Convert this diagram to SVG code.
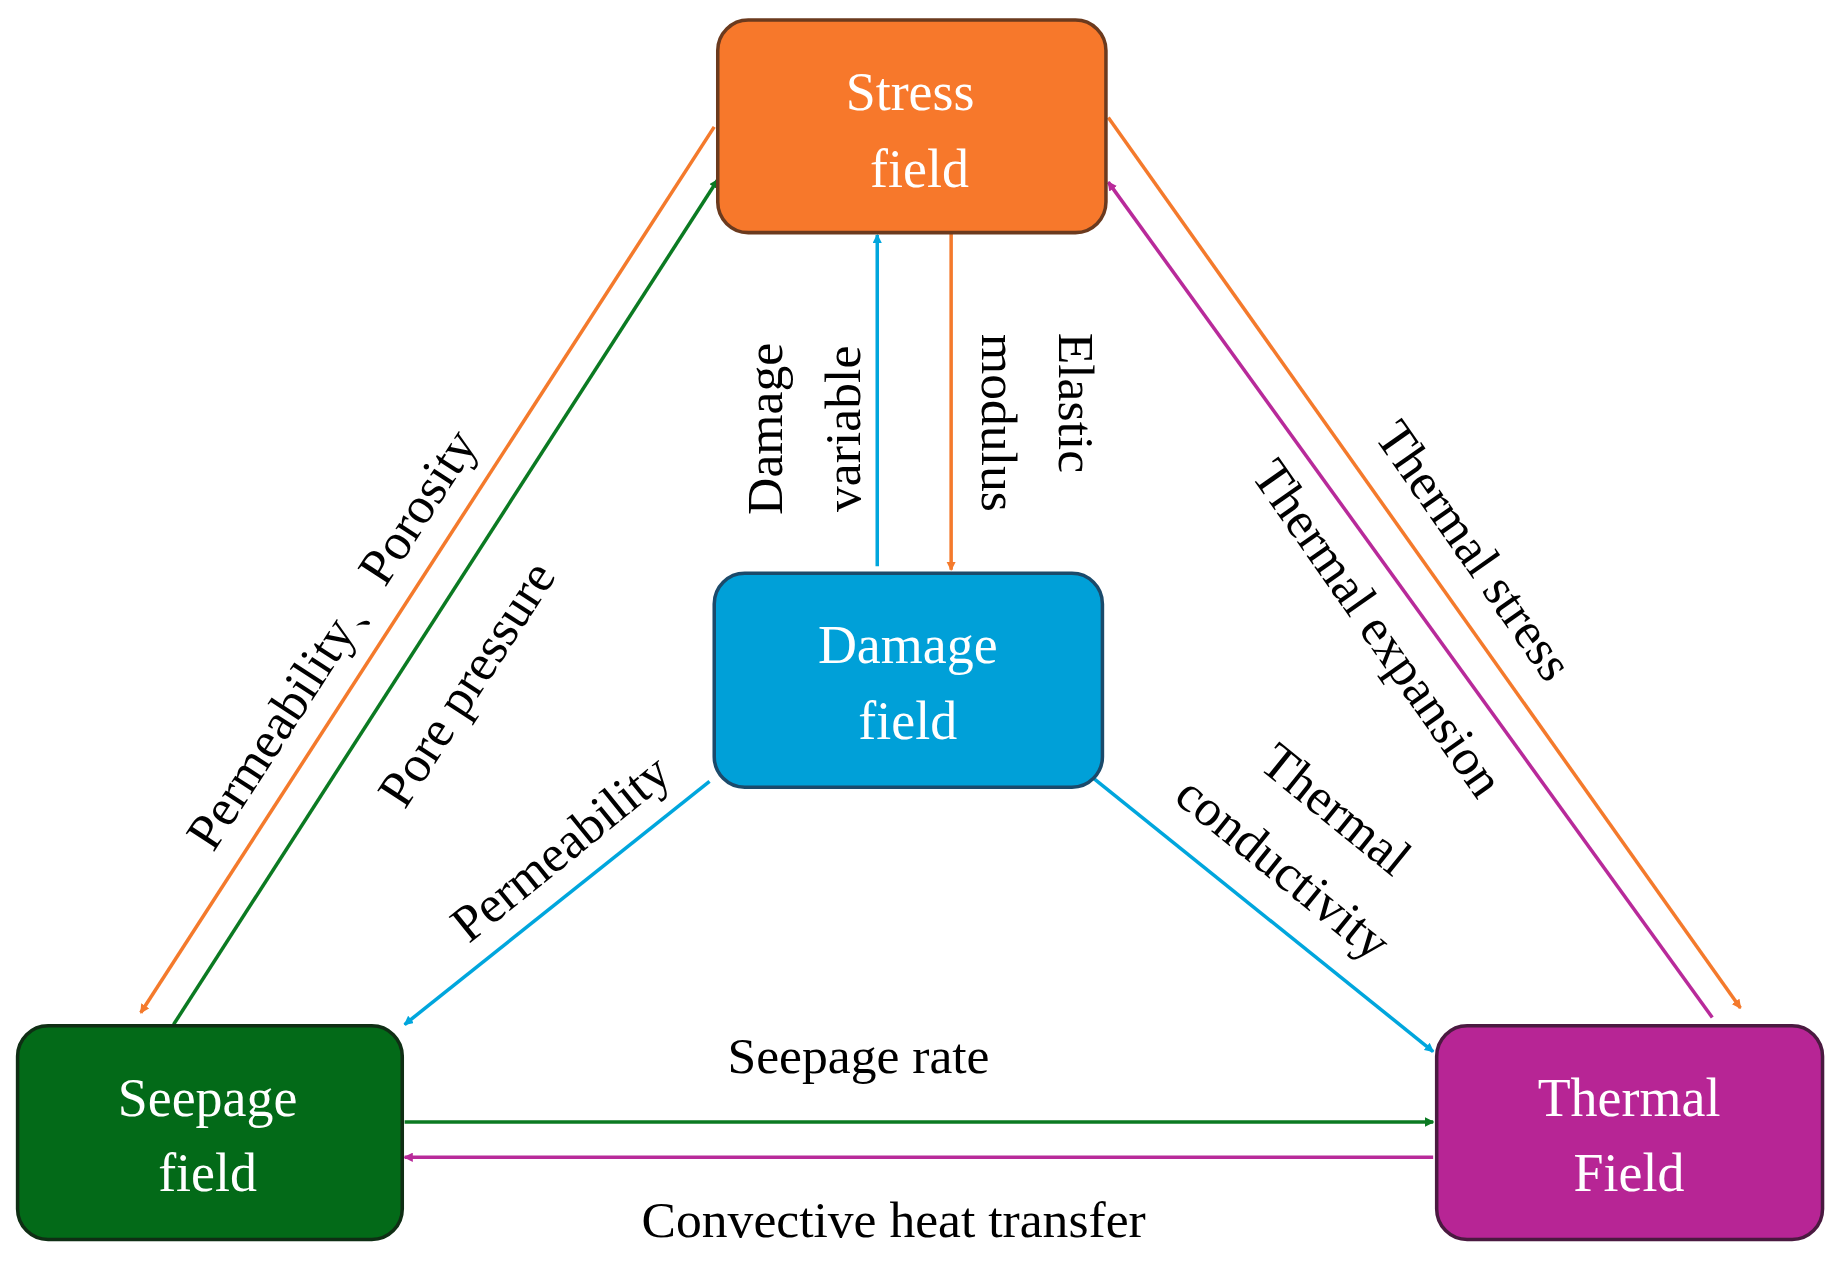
<svg xmlns="http://www.w3.org/2000/svg" width="1839" height="1263" viewBox="0 0 1839 1263">
<defs>
<style>
.nt{font-family:"Liberation Serif",serif;font-size:46px;fill:#fff;text-anchor:middle}
.lb{font-family:"Liberation Serif",serif;font-size:44px;fill:#000;text-anchor:middle}
.c{fill:none;stroke-width:3}
</style>
<marker id="ao" markerWidth="8" markerHeight="8" refX="7" refY="4" orient="auto" markerUnits="userSpaceOnUse" viewBox="0 0 8 8"><path d="M0,0L8,4L0,8z" fill="#F47A2C"/></marker>
<marker id="ag" markerWidth="8" markerHeight="8" refX="7" refY="4" orient="auto" markerUnits="userSpaceOnUse" viewBox="0 0 8 8"><path d="M0,0L8,4L0,8z" fill="#0B7A22"/></marker>
<marker id="ab" markerWidth="8" markerHeight="8" refX="7" refY="4" orient="auto" markerUnits="userSpaceOnUse" viewBox="0 0 8 8"><path d="M0,0L8,4L0,8z" fill="#00A6DD"/></marker>
<marker id="am" markerWidth="8" markerHeight="8" refX="7" refY="4" orient="auto" markerUnits="userSpaceOnUse" viewBox="0 0 8 8"><path d="M0,0L8,4L0,8z" fill="#B82A9A"/></marker>
</defs>
<rect width="1839" height="1263" fill="#fff"/>
<g transform="scale(1.1728,1.1749)">
<g id="connectors">
<path class="c" stroke="#F47A2C" d="M609,108L120,862" marker-end="url(#ao)" transform="scale(1)"/>
<path class="c" stroke="#0B7A22" d="M148,872L612,153" marker-end="url(#ag)"/>
<path class="c" stroke="#00A6DD" d="M748,482L748,200" marker-end="url(#ab)"/>
<path class="c" stroke="#F47A2C" d="M811,198L811,485" marker-end="url(#ao)"/>
<path class="c" stroke="#00A6DD" d="M605,665L345,872" marker-end="url(#ab)"/>
<path class="c" stroke="#00A6DD" d="M933,663L1222,895" marker-end="url(#ab)"/>
<path class="c" stroke="#F47A2C" d="M945,100L1484,858" marker-end="url(#ao)"/>
<path class="c" stroke="#B82A9A" d="M1460,866L945,155" marker-end="url(#am)"/>
<path class="c" stroke="#0B7A22" d="M345,955L1222,955" marker-end="url(#ag)"/>
<path class="c" stroke="#B82A9A" d="M1222,985L345,985" marker-end="url(#am)"/>
</g>
<g id="labels">
<text class="lb" transform="translate(295,552) rotate(-57)">Permeability、Porosity</text>
<text class="lb" transform="translate(410,590) rotate(-57)">Pore pressure</text>
<text class="lb" transform="translate(667,365) rotate(-90)">Damage</text>
<text class="lb" transform="translate(733,365) rotate(-90)">variable</text>
<text class="lb" transform="translate(903,343) rotate(90)">Elastic</text>
<text class="lb" transform="translate(837,360) rotate(90)">modulus</text>
<text class="lb" transform="translate(1245,477) rotate(55)">Thermal stress</text>
<text class="lb" transform="translate(1163,543) rotate(55)">Thermal expansion</text>
<text class="lb" transform="translate(487,733) rotate(-39)">Permeability</text>
<text class="lb" transform="translate(1130,700) rotate(39)">Thermal</text>
<text class="lb" transform="translate(1085,750) rotate(39)">conductivity</text>
<text class="lb" x="732" y="913">Seepage rate</text>
<text class="lb" x="762" y="1053">Convective heat transfer</text>
</g>
<g id="stress"><rect x="612" y="17" width="331" height="181" rx="26" fill="#F7782B" stroke="#6B3A1E" stroke-width="3"/>
<text class="nt" x="776" y="94">Stress</text><text class="nt" x="784" y="159">field</text></g>
<g id="damage"><rect x="609" y="488" width="331" height="182" rx="26" fill="#00A0D8" stroke="#1B4A6B" stroke-width="3"/>
<text class="nt" x="774" y="564">Damage</text><text class="nt" x="774" y="629">field</text></g>
<g id="seepage"><rect x="15" y="873" width="328" height="182" rx="26" fill="#036A18" stroke="#0F2E14" stroke-width="3"/>
<text class="nt" x="177" y="950">Seepage</text><text class="nt" x="177" y="1014">field</text></g>
<g id="thermal"><rect x="1225" y="873" width="329" height="182" rx="26" fill="#B72595" stroke="#4A1A40" stroke-width="3"/>
<text class="nt" x="1389" y="950">Thermal</text><text class="nt" x="1389" y="1014">Field</text></g>
</g>
</svg>
